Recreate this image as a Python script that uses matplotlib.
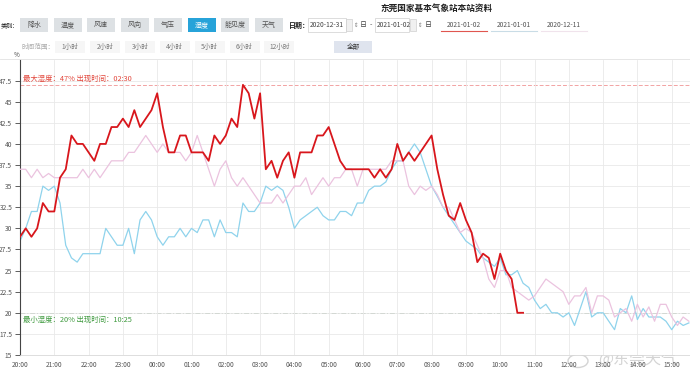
import numpy as np
import matplotlib.pyplot as plt
from matplotlib.patches import Rectangle, Ellipse

plt.rcParams['font.family'] = ['Noto Sans CJK SC', 'DejaVu Sans']

# x axis: hours after 20:00, one reading every 10 minutes
hour_labels = ["20:00", "21:00", "22:00", "23:00", "00:00", "01:00", "02:00",
               "03:00", "04:00", "05:00", "06:00", "07:00", "08:00", "09:00",
               "10:00", "11:00", "12:00", "13:00", "14:00", "15:00"]
y_ticks = [15, 17.5, 20, 22.5, 25, 27.5, 30, 32.5, 35, 37.5, 40, 42.5, 45, 47.5]
step_h = 1 / 6

# 2021-01-02 (red)
red_vals = [29, 30, 29, 30, 33, 32, 32, 36, 37, 41, 40, 40, 39, 38, 40, 40, 42, 42,
            43, 42, 44, 42, 43, 44, 46, 42, 39, 39, 41, 41, 39, 39, 39, 38, 41, 40,
            41, 43, 42, 47, 46, 43, 46, 37, 38, 36, 38, 39, 36, 39, 39, 39, 41, 41,
            42, 40, 38, 37, 37, 37, 37, 37, 36, 37, 36, 37, 40, 38, 39, 38, 39, 40,
            41, 37, 34, 31.5, 31, 33, 31, 29.5, 26, 27, 26.5, 24, 27, 25, 24, 20, 20]
# 2021-01-01 (pink)
pink_vals = [37, 37, 36, 37, 36, 36.5, 36, 36, 36, 36, 36, 37, 36, 37, 36, 37, 38, 38,
             38, 39, 39, 40, 41, 40, 39, 40, 39, 39, 39, 38, 39, 41, 39, 37, 35, 37,
             38, 36, 35, 36, 35, 34, 33, 33, 33, 34, 33, 34, 35, 35, 36, 34, 35, 36,
             35, 36, 36, 37, 37, 35, 37, 37, 37, 37, 37, 38, 38, 38, 35, 34, 35, 34.5,
             35, 34, 32.5, 32.5, 31, 29.5, 30, 29.5, 28, 26.5, 24, 23, 25, 25, 23, 22.5,
             22, 21.5, 22, 23, 24, 23.5, 23, 22.5, 21, 22, 22, 23, 20, 22, 22, 21.5,
             19.5, 20, 20.5, 19, 21, 19.5, 20.7, 19, 21, 21, 19.5, 18.5, 19.5, 19]
# 2020-12-11 (blue)
blue_vals = [28.5, 30, 32, 32, 35, 34.5, 35, 33, 28, 26.5, 26, 27, 27, 27, 27, 30, 29, 28,
             28, 30, 27, 31, 32, 31, 29, 28, 29, 29, 30, 29, 30, 29.5, 31, 31, 29, 31,
             29.5, 29.5, 29, 33, 32, 32, 33, 35, 34.5, 35, 34.5, 32.5, 30, 31, 31.5, 32,
             32.5, 31.5, 31, 31, 32, 32, 31.5, 33, 33, 34.5, 35, 35, 35.5, 37, 38, 38,
             39, 40, 39, 37, 35, 33.8, 32.5, 31.5, 30.5, 29.5, 28.5, 28, 27.5, 26.5, 26,
             25.5, 26.5, 24.5, 24.5, 25, 23.5, 23, 21.5, 20.5, 21, 20, 20, 19.5, 20, 18.5,
             20.5, 22.5, 19.5, 20, 20, 19, 18, 20.5, 20, 22, 19.2, 20.5, 19.5, 19.5, 19.5,
             19, 18, 19, 18.5, 18.8]

max_val, max_time = 47, "02:30"
min_val, min_time = 20, "10:25"

cat_labels = ["降水", "温度", "风速", "风向", "气压", "湿度", "能见度", "天气"]
range_labels = ["1小时", "2小时", "3小时", "4小时", "5小时", "6小时", "12小时"]
date_tabs = ["2021-01-02", "2021-01-01", "2020-12-11"]

fig = plt.figure(figsize=(6.9, 3.72), dpi=100)
ax = fig.add_axes([20 / 690, 17 / 372, 670 / 690, 295.5 / 372])

def xs(vals):
    return np.arange(len(vals)) * step_h

ax.plot(xs(blue_vals), blue_vals, color='#8fd3ec', lw=0.9, zorder=2)
ax.plot(xs(pink_vals), pink_vals, color='#ebc3df', lw=0.9, zorder=3)
ax.plot(xs(red_vals), red_vals, color='#d8161c', lw=1.3, zorder=4)

ax.axhline(max_val, color='#f2a3a3', ls=(0, (4, 2)), lw=0.7, zorder=1)
ax.axhline(min_val, color='#5f7f5f', ls=(0, (5, 2, 1, 2)), lw=0.7, zorder=1)
ax.text(0.09, max_val + 0.7, f"最大湿度：{max_val}% 出现时间：{max_time}",
        color='#e2463b', fontsize=5.3, va='center', ha='left')
ax.text(0.09, min_val - 0.8, f"最小湿度：{min_val}% 出现时间：{min_time}",
        color='#3f9a3f', fontsize=5.3, va='center', ha='left')

ax.set_xlim(0, 117.2 * step_h)
ax.set_ylim(15, 50)
ax.set_xticks(range(len(hour_labels)))
ax.set_xticklabels(hour_labels)
ax.set_yticks(y_ticks)
ax.set_yticklabels([f"{t:g}" for t in y_ticks])
ax.grid(color='#e9e9e9', lw=0.6, zorder=0)
ax.tick_params(axis='y', length=3.6, width=0.6, color='#444', labelsize=4.8,
               labelcolor='#555', pad=2)
ax.tick_params(axis='x', length=0, labelsize=4.8, labelcolor='#555', pad=4)
for s in ['top', 'right']:
    ax.spines[s].set_visible(False)
ax.spines['left'].set_color('#444')
ax.spines['left'].set_linewidth(0.8)
ax.spines['bottom'].set_color('#d8d8d8')
ax.spines['bottom'].set_linewidth(0.6)

# header drawn in pixel coordinates
hd = fig.add_axes([0, 0, 1, 1], zorder=-1)
hd.set_xlim(0, 690)
hd.set_ylim(372, 0)
hd.axis('off')

hd.text(437, 8, "东莞国家基本气象站本站资料", fontsize=6.2, fontweight='bold',
        color='#222', ha='center', va='center')
hd.text(0.5, 25, "类别:", fontsize=4.5, color='#222', ha='left', va='center')
for i, lab in enumerate(cat_labels):
    x0 = 20 + i * 33.5
    sel = lab == "湿度"
    hd.add_patch(Rectangle((x0, 18), 28, 14, facecolor='#27a3d9' if sel else '#dde1e4',
                           edgecolor='none'))
    hd.text(x0 + 14, 25, lab, fontsize=5, color='white' if sel else '#555',
            ha='center', va='center')

hd.text(289, 25, "日期：", fontsize=5, color='#222', ha='left', va='center', fontweight='bold')
hd.add_patch(Rectangle((308, 18), 38, 14, facecolor='white', edgecolor='#cfcfcf', lw=0.5))
hd.text(310, 25, "2020-12-31", fontsize=4.8, color='#444', ha='left', va='center')
hd.add_patch(Rectangle((346, 19), 6, 12, facecolor='#f0f0f0', edgecolor='#cfcfcf', lw=0.5))
hd.text(356, 25, "⇕", fontsize=4, color='#777', ha='center', va='center')
hd.text(363, 25, "日", fontsize=5, color='#444', ha='center', va='center')
hd.text(371, 25, "-", fontsize=5, color='#444', ha='center', va='center')
hd.add_patch(Rectangle((375, 18), 34, 14, facecolor='white', edgecolor='#cfcfcf', lw=0.5))
hd.text(377, 25, "2021-01-02", fontsize=4.8, color='#444', ha='left', va='center')
hd.add_patch(Rectangle((410, 19), 6, 12, facecolor='#f0f0f0', edgecolor='#cfcfcf', lw=0.5))
hd.text(420, 25, "⇕", fontsize=4, color='#777', ha='center', va='center')
hd.text(428, 25, "日", fontsize=5, color='#444', ha='center', va='center')

tab_colors = ['#e0564f', '#c9dce6', '#f0e3ec']
for i, (lab, c) in enumerate(zip(date_tabs, tab_colors)):
    xc = 464 + i * 50
    hd.text(xc, 25, lab, fontsize=4.8, color='#555', ha='center', va='center')
    hd.plot([xc - 23, xc + 23], [31, 31], color=c, lw=0.8)

hd.text(21, 47, "时间范围：", fontsize=4.8, color='#aaa', ha='left', va='center')
for i, lab in enumerate(range_labels):
    x0 = 55 + i * 34.9
    hd.add_patch(Rectangle((x0, 41), 30, 12, facecolor='#f6f6f6', edgecolor='none'))
    hd.text(x0 + 15, 47, lab, fontsize=4.8, color='#777', ha='center', va='center')
hd.add_patch(Rectangle((334, 41), 38, 12, facecolor='#dfe4ee', edgecolor='none'))
hd.text(353, 47, "全部", fontsize=4.8, color='#333', ha='center', va='center')

hd.plot([0, 690], [58.5, 58.5], color='#e2e2e2', lw=0.6)
hd.text(17, 55, "%", fontsize=4.5, color='#444', ha='center', va='center')

# watermark
hd.add_patch(Ellipse((578, 361), 20, 13, facecolor='none', edgecolor='#d4d4d4', lw=1.0))
hd.text(638, 360, "@东莞天气", fontsize=11.5, color='#d4d4d4', ha='center', va='center')

fig.savefig("out.png", dpi=100)
